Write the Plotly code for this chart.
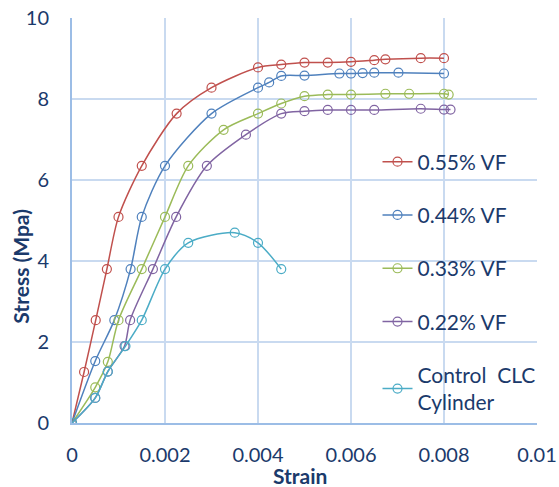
import plotly.graph_objects as go

# Data
names = ["0.55% VF", "0.44% VF", "0.33% VF", "0.22% VF", "Control  CLC<br>Cylinder"]
colors = ["#C0504D", "#4F81BD", "#9BBB59", "#8064A2", "#4BACC6"]

strain_055 = [0, 0.00026, 0.00051, 0.00075, 0.0010, 0.0015, 0.00225, 0.0030, 0.0040, 0.0045, 0.0050, 0.0055, 0.0060, 0.0065, 0.00674, 0.0075, 0.0080]
stress_055 = [0, 1.26, 2.54, 3.80, 5.09, 6.35, 7.64, 8.28, 8.78, 8.85, 8.90, 8.90, 8.92, 8.96, 8.98, 9.01, 9.01]

strain_044 = [0, 0.0005, 0.00091, 0.00126, 0.0015, 0.0020, 0.0030, 0.0040, 0.00424, 0.0045, 0.0050, 0.00575, 0.0060, 0.00625, 0.0065, 0.00702, 0.0080]
stress_044 = [0, 1.53, 2.54, 3.80, 5.09, 6.35, 7.64, 8.28, 8.41, 8.57, 8.58, 8.63, 8.63, 8.64, 8.65, 8.65, 8.63]

strain_033 = [0, 0.0005, 0.00077, 0.0010, 0.0015, 0.0020, 0.0025, 0.00326, 0.0040, 0.0045, 0.0050, 0.0055, 0.0060, 0.00674, 0.00725, 0.0080, 0.0081]
stress_033 = [0, 0.88, 1.51, 2.54, 3.80, 5.09, 6.35, 7.24, 7.64, 7.89, 8.07, 8.11, 8.11, 8.13, 8.13, 8.13, 8.11]

strain_022 = [0, 0.0005, 0.00077, 0.00113, 0.00125, 0.00174, 0.00224, 0.0029, 0.00374, 0.0045, 0.0050, 0.0055, 0.0060, 0.0065, 0.0075, 0.0080, 0.00814]
stress_022 = [0, 0.62, 1.27, 1.90, 2.54, 3.80, 5.09, 6.35, 7.12, 7.64, 7.70, 7.73, 7.73, 7.73, 7.76, 7.74, 7.74]

strain_ctrl = [0, 0.0005, 0.00077, 0.00115, 0.0015, 0.0020, 0.0025, 0.0035, 0.0040, 0.0045]
stress_ctrl = [0, 0.62, 1.27, 1.90, 2.54, 3.80, 4.45, 4.70, 4.45, 3.80]

x_ticks = [0, 0.002, 0.004, 0.006, 0.008, 0.01]
x_tick_text = ["0", "0.002", "0.004", "0.006", "0.008", "0.01"]
y_ticks = [0, 2, 4, 6, 8, 10]

series = [
    (strain_055, stress_055),
    (strain_044, stress_044),
    (strain_033, stress_033),
    (strain_022, stress_022),
    (strain_ctrl, stress_ctrl),
]

text_color = "#1B3A6B"
grid_color = "#C9DAF0"
axis_color = "#9CBDE6"
fs = 21
tfs = 20

fig = go.Figure()
for i, ((xs, ys), name, col) in enumerate(zip(series, names, colors)):
    fig.add_trace(go.Scatter(
        x=xs, y=ys, name=name, mode="lines+markers",
        line=dict(color=col, width=1.5, shape="spline", smoothing=0.8),
        marker=dict(symbol="circle-open", size=9, color=col, line=dict(width=1.2)),
        legendgroup=f"g{i}",
    ))

fig.update_layout(
    width=559, height=487,
    margin=dict(l=72, r=22, t=18, b=64),
    paper_bgcolor="white", plot_bgcolor="white",
    font=dict(family="Lato, Open Sans, sans-serif", color=text_color, size=fs),
    showlegend=True,
    legend=dict(
        x=0.657, y=0.695, xanchor="left", yanchor="top",
        bgcolor="rgba(255,255,255,0)",
        font=dict(size=fs, color=text_color),
        tracegroupgap=23,
        itemwidth=30,
    ),
    xaxis=dict(
        range=[0, 0.01], tickvals=x_ticks, ticktext=x_tick_text,
        showgrid=True, gridcolor=grid_color, gridwidth=1.5,
        showline=True, linecolor=axis_color, linewidth=2,
        zeroline=False, ticks="", ticklabelstandoff=13,
        automargin=False, ticklabeloverflow="allow",
        tickfont=dict(size=tfs, color=text_color),
    ),
    yaxis=dict(
        range=[0, 10.001], tickvals=y_ticks,
        showgrid=True, gridcolor=grid_color, gridwidth=1.5,
        showline=True, linecolor=axis_color, linewidth=2,
        zeroline=False, ticks="", ticklabelstandoff=17,
        automargin=False, ticklabeloverflow="allow",
        tickfont=dict(size=tfs, color=text_color),
    ),
    annotations=[
        dict(text="<b>Stress (Mpa)</b>", xref="paper", yref="paper",
             x=-0.11, y=0.388, xanchor="center", yanchor="middle",
             textangle=-90, showarrow=False,
             font=dict(size=fs, color=text_color)),
        dict(text="<b>Strain</b>", xref="paper", yref="paper",
             x=0.49, y=-0.13, xanchor="center", yanchor="middle",
             showarrow=False, font=dict(size=fs, color=text_color)),
    ],
)

fig.write_html("out.html", config={"displayModeBar": False},
               post_script="document.body.style.margin='0';")
